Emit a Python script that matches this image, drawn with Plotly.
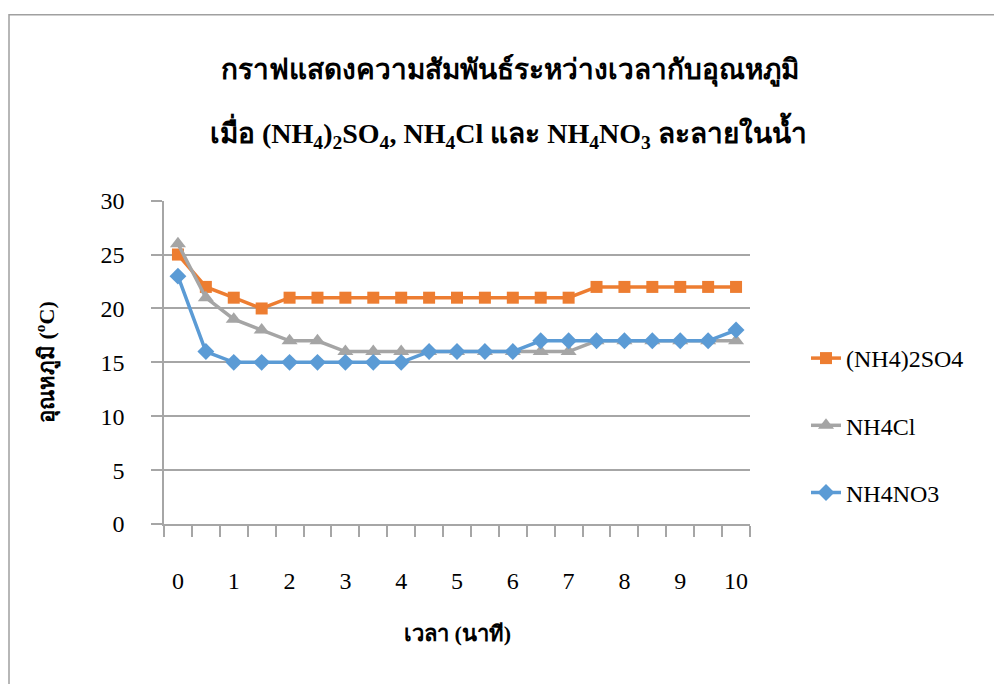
import plotly.graph_objects as go

# Time after dissolving (minutes) and measured water temperature (°C)
time_min = [0, 0.5, 1, 1.5, 2, 2.5, 3, 3.5, 4, 4.5, 5, 5.5, 6, 6.5, 7, 7.5, 8, 8.5, 9, 9.5, 10]
temp_nh4_2so4 = [25, 22, 21, 20, 21, 21, 21, 21, 21, 21, 21, 21, 21, 21, 21, 22, 22, 22, 22, 22, 22]
temp_nh4cl = [26, 21, 19, 18, 17, 17, 16, 16, 16, 16, 16, 16, 16, 16, 16, 17, 17, 17, 17, 17, 17]
temp_nh4no3 = [23, 16, 15, 15, 15, 15, 15, 15, 15, 16, 16, 16, 16, 17, 17, 17, 17, 17, 17, 17, 18]

series_names = ["(NH4)2SO4", "NH4Cl", "NH4NO3"]
x_tick_vals = [0, 1, 2, 3, 4, 5, 6, 7, 8, 9, 10]
x_tick_text = ["0", "1", "2", "3", "4", "5", "6", "7", "8", "9", "10"]
y_tick_vals = [0, 5, 10, 15, 20, 25, 30]

title_line1 = "กราฟแสดงความสัมพันธ์ระหว่างเวลากับอุณหภูมิ"
title_line2 = ("เมื่อ (NH<sub>4</sub>)<sub>2</sub>SO<sub>4</sub>, NH<sub>4</sub>Cl และ "
               "NH<sub>4</sub>NO<sub>3</sub> ละลายในน้ำ")
x_title = "เวลา (นาที)"
y_title = "อุณหภูมิ (<sup>o</sup>C)"

W, H = 994, 684
FONT = "Liberation Serif, Times New Roman, serif"
GRID = "#a6a6a6"

styles = [
    dict(color="#ED7D31", symbol="square", size=12),
    dict(color="#A5A5A5", symbol="triangle-up", size=14),
    dict(color="#5B9BD5", symbol="diamond", size=13),
]

fig = go.Figure()
for name, ys, st in zip(series_names, [temp_nh4_2so4, temp_nh4cl, temp_nh4no3], styles):
    fig.add_trace(go.Scatter(
        x=time_min, y=ys, name=name, legendgroup=name,
        mode="lines+markers",
        line=dict(color=st["color"], width=3.5),
        marker=dict(color=st["color"], symbol=st["symbol"], size=st["size"]),
    ))

# plot area in pixels
px_l, px_r, px_t, px_b = 164, 750, 200.7, 524


def px_x(x):
    return x / W


def px_y(y):
    return (H - y) / H


fig.update_layout(
    width=W, height=H,
    margin=dict(l=0, r=0, t=0, b=0, autoexpand=False),
    paper_bgcolor="white", plot_bgcolor="white",
    font=dict(family=FONT, size=24, color="black"),
    showlegend=True,
    legend=dict(
        x=px_x(806), y=px_y(336), xanchor="left", yanchor="top",
        font=dict(family=FONT, size=24, color="black"),
        traceorder="grouped", tracegroupgap=33,
        bgcolor="rgba(0,0,0,0)",
    ),
    xaxis=dict(
        domain=[px_x(px_l), px_x(px_r)],
        range=[-0.25, 10.25],
        tickmode="array", tickvals=x_tick_vals, ticktext=x_tick_text,
        ticks="", showgrid=False, zeroline=False, automargin=False,
        showline=True, linecolor=GRID, linewidth=1.5,
        ticklabelstandoff=34,
        tickfont=dict(family=FONT, size=24),
        minor=dict(ticks="outside", ticklen=11, tickcolor=GRID, tickwidth=1.5,
                   tick0=-0.25, dtick=0.5, showgrid=False),
    ),
    yaxis=dict(
        domain=[px_y(px_b), px_y(px_t)],
        range=[0, 30],
        tickmode="array", tickvals=y_tick_vals,
        ticks="outside", ticklen=11, tickcolor=GRID, tickwidth=1.5,
        showgrid=True, gridcolor=GRID, gridwidth=1.5, automargin=False,
        zeroline=False, showline=True, linecolor=GRID, linewidth=1.5,
        ticklabelstandoff=22,
        tickfont=dict(family=FONT, size=24),
    ),
    annotations=[
        dict(text="<b>" + title_line1 + "</b>", x=px_x(510), y=px_y(70),
             xref="paper", yref="paper", showarrow=False,
             xanchor="center", yanchor="middle",
             font=dict(family=FONT, size=28, color="black")),
        dict(text="<b>" + title_line2 + "</b>", x=px_x(508), y=px_y(133),
             xref="paper", yref="paper", showarrow=False,
             xanchor="center", yanchor="middle",
             font=dict(family=FONT, size=28, color="black")),
        dict(text="<b>" + x_title + "</b>", x=px_x(457), y=px_y(633),
             xref="paper", yref="paper", showarrow=False,
             xanchor="center", yanchor="middle",
             font=dict(family=FONT, size=22, color="black")),
        dict(text="<b>" + y_title + "</b>", x=px_x(46), y=px_y(362),
             xref="paper", yref="paper", showarrow=False, textangle=-90,
             xanchor="center", yanchor="middle",
             font=dict(family=FONT, size=22, color="black")),
    ],
    shapes=[
        dict(type="rect", xref="paper", yref="paper",
             x0=px_x(9), x1=1.05, y0=-0.05, y1=px_y(14.7),
             line=dict(color="#a0a0a0", width=1.5), fillcolor="rgba(0,0,0,0)",
             layer="below"),
    ],
)

fig.write_html("out.html")
